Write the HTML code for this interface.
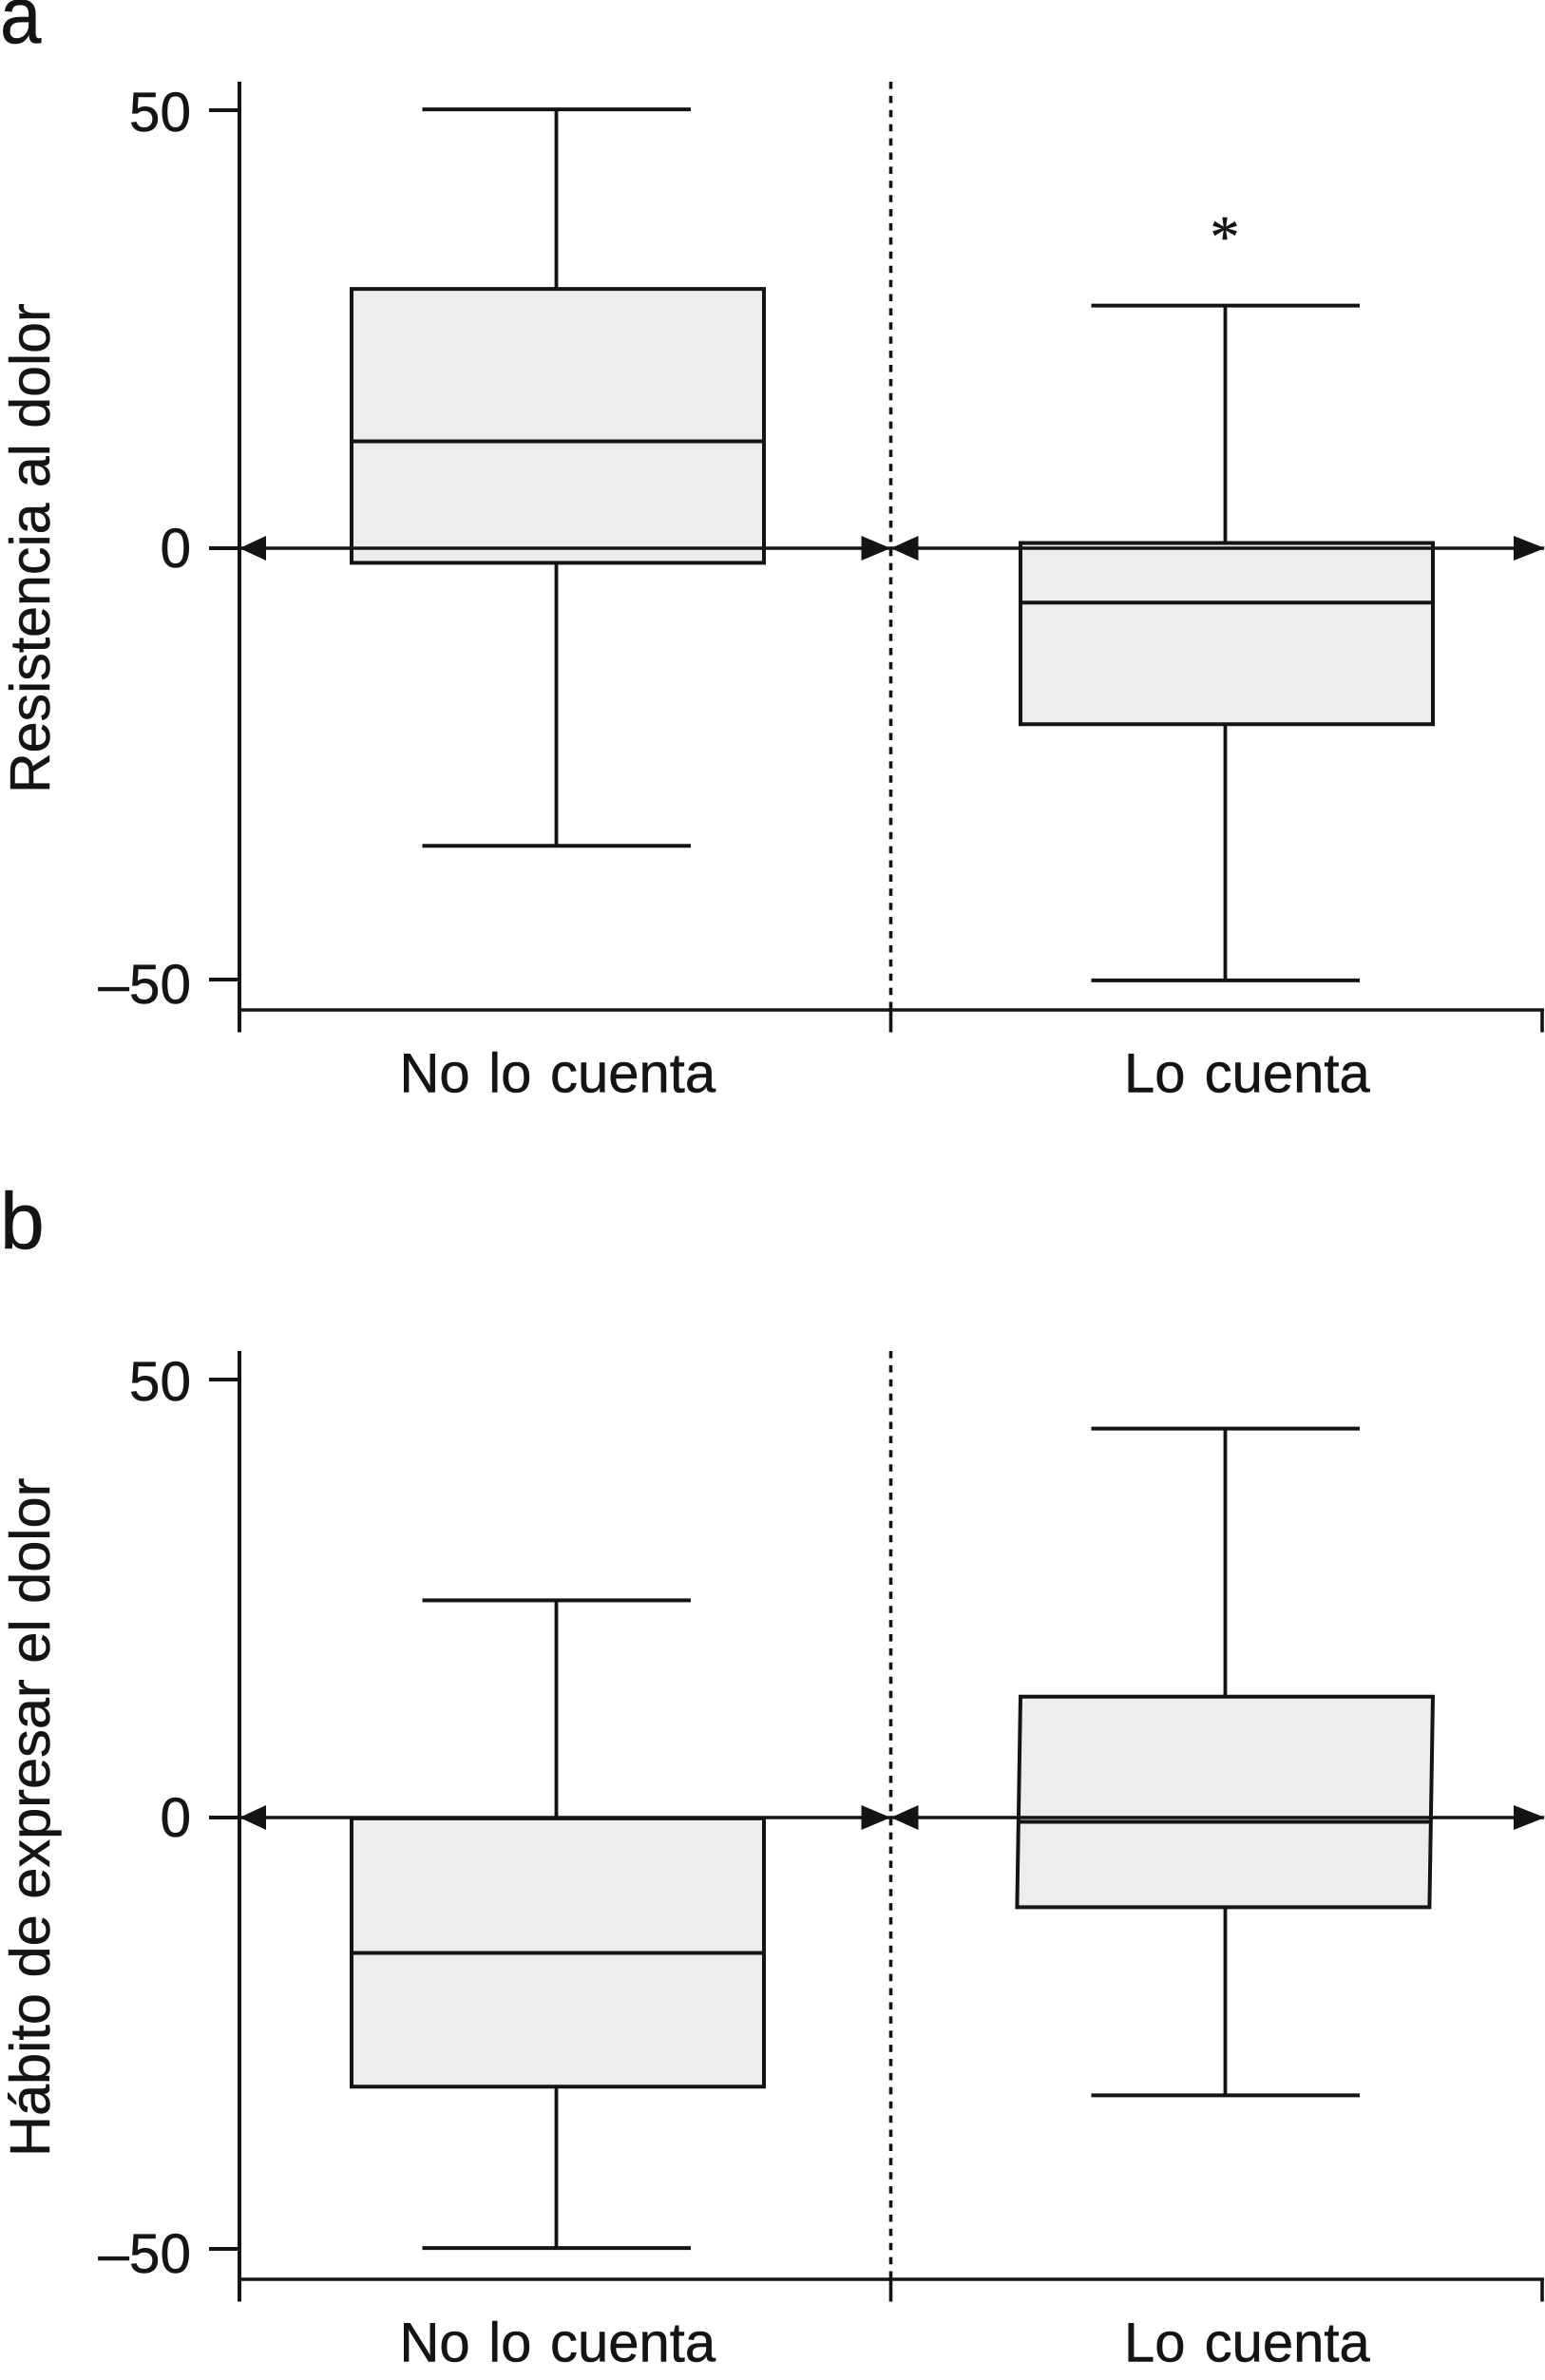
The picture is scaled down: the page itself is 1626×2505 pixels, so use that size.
<!DOCTYPE html>
<html lang="es">
<head>
<meta charset="utf-8">
<title>Resistencia al dolor y hábito de expresar el dolor</title>
<style>
html,body{margin:0;padding:0;background:#fff;}
svg{display:block;}
text{font-family:"Liberation Sans",sans-serif;fill:#141414;stroke:#141414;stroke-width:0.5px;}
</style>
</head>
<body>
<svg id="figure" width="1626" height="2505" viewBox="0 0 1626 2505" xmlns="http://www.w3.org/2000/svg">
  <rect x="0" y="0" width="1626" height="2505" fill="#ffffff"/>
  <text transform="translate(0,45) scale(0.93,1)" font-size="84">a</text>
  <text x="0" y="1314" font-size="84">b</text>
  <text transform="translate(52,835) rotate(-90)" font-size="59.1">Resistencia al dolor</text>
  <text transform="translate(52,2270) rotate(-90)" font-size="59.5">Hábito de expresar el dolor</text>
</svg>
<script>
const categories = ["No lo cuenta", "Lo cuenta"];
const tickValues = [50, 0, -50];
const tickLabels = ["50", "0", "–50"];

const panelAWhiskerHigh = [50.1, 27.7];
const panelAQ3 = [29.6, 0.6];
const panelAMedian = [12.2, -6.3];
const panelAQ1 = [-1.7, -20.4];
const panelAWhiskerLow = [-34.5, -50.1];

const panelBWhiskerHigh = [24.8, 44.4];
const panelBQ3 = [-0.1, 13.8];
const panelBMedian = [-15.7, -0.5];
const panelBQ1 = [-31.2, -10.4];
const panelBWhiskerLow = [-49.9, -32.2];

const NS = "http://www.w3.org/2000/svg";
const INK = "#141414";
const svg = document.getElementById("figure");

function make(tag, attrs) {
  const el = document.createElementNS(NS, tag);
  for (const key in attrs) el.setAttribute(key, attrs[key]);
  svg.appendChild(el);
  return el;
}

function drawLine(x1, y1, x2, y2, width, name) {
  const el = make("line", { x1: x1, y1: y1, x2: x2, y2: y2, stroke: INK, "stroke-width": width });
  
  
  return el;
}

function drawArrow(tipX, baseX, y, name) {
  const el = make("polygon", { points: tipX + "," + y + " " + baseX + "," + (y - 13) + " " + baseX + "," + (y + 13), fill: INK });
  
  
  return el;
}

function drawPanel(panel, offset, high, q3, median, q1, low, skews) {
  // Axis functions, calibrated to the printed ticks of the figure.
  const yScale = function (v) {
    return offset + 577 + (v >= 0 ? -v * 9.22 : -v * 9.08);
  };
  const xCenter = function (i) {
    return 585.5 + i * 704;
  };
  const axisLeft = 252, divider = 937.5, axisRight = 1623;
  const axisTop = offset + 86, axisBase = offset + 1063, tickEnd = offset + 1086.5;
  const labelNudge = [22, 20, 25];

  drawLine(axisLeft, axisTop, axisLeft, tickEnd, 4, panel + "-y-axis");
  drawLine(axisLeft, axisBase, axisRight + 2, axisBase, 3.6, panel + "-x-axis");
  drawLine(divider, axisBase, divider, tickEnd, 3.6, panel + "-x-tick-divider");
  drawLine(axisRight, axisBase, axisRight, tickEnd, 3.6, panel + "-x-tick-right");

  const dashed = drawLine(divider, axisTop, divider, axisBase, 3.6, panel + "-group-divider");
  dashed.setAttribute("stroke-dasharray", "7.6 7.3");

  tickValues.forEach(function (value, i) {
    drawLine(220, yScale(value), axisLeft, yScale(value), 4, panel + "-y-tick");
    const label = make("text", { x: 201, y: yScale(value) + labelNudge[i], "font-size": 58.5, "text-anchor": "end" });
    
    
    label.textContent = tickLabels[i];
  });

  categories.forEach(function (category, i) {
    const cx = xCenter(i);
    const skew = skews[i];
    const yHigh = yScale(high[i]), yQ3 = yScale(q3[i]), yMedian = yScale(median[i]), yQ1 = yScale(q1[i]), yLow = yScale(low[i]);

    drawLine(cx, yHigh, cx, yQ3, 3.8, panel + "-whisker-upper");
    drawLine(cx, yQ1, cx, yLow, 3.8, panel + "-whisker-lower");
    drawLine(cx - 141, yHigh, cx + 141.5, yHigh, 4, panel + "-cap-upper");
    drawLine(cx - 141, yLow, cx + 141.5, yLow, 4, panel + "-cap-lower");

    const left = cx - 215.5, right = cx + 218.5;
    const box = make("polygon", {
      points: left + "," + yQ3 + " " + right + "," + yQ3 + " " + (right - skew) + "," + yQ1 + " " + (left - skew) + "," + yQ1,
      fill: "#ededed", stroke: INK, "stroke-width": 4
    });
    
    

    const medianShift = skew * (yMedian - yQ3) / (yQ1 - yQ3);
    drawLine(left - medianShift, yMedian, right - medianShift, yMedian, 4, panel + "-median");

    const isLong = i === 0;
    const label = make("text", { x: isLong ? 420.5 : 1183, y: offset + 1149.5, "font-size": 58 });
    
    
    label.setAttribute("word-spacing", isLong ? "3.5" : "4");
    label.textContent = category;
  });

  const zeroY = yScale(0);
  drawLine(axisLeft, zeroY, divider, zeroY, 3.5, panel + "-zero-line-left");
  drawLine(divider, zeroY, 1625, zeroY, 3.5, panel + "-zero-line-right");
  drawArrow(axisLeft, axisLeft + 28, zeroY, panel + "-arrow-left");
  drawArrow(divider, divider - 31, zeroY, panel + "-arrow-divider-in");
  drawArrow(divider, divider + 29, zeroY, panel + "-arrow-divider-out");
  drawArrow(1626, 1593, zeroY, panel + "-arrow-right");
}

drawPanel("panel-a", 0, panelAWhiskerHigh, panelAQ3, panelAMedian, panelAQ1, panelAWhiskerLow, [0, 0]);
drawPanel("panel-b", 1336, panelBWhiskerHigh, panelBQ3, panelBMedian, panelBQ1, panelBWhiskerLow, [0, 3.6]);

const star = make("text", { x: 1289, y: 270, "font-size": 62, "text-anchor": "middle" });


star.setAttribute("style", 'font-family:"Liberation Serif",serif');
star.textContent = "*";
</script>
</body>
</html>
